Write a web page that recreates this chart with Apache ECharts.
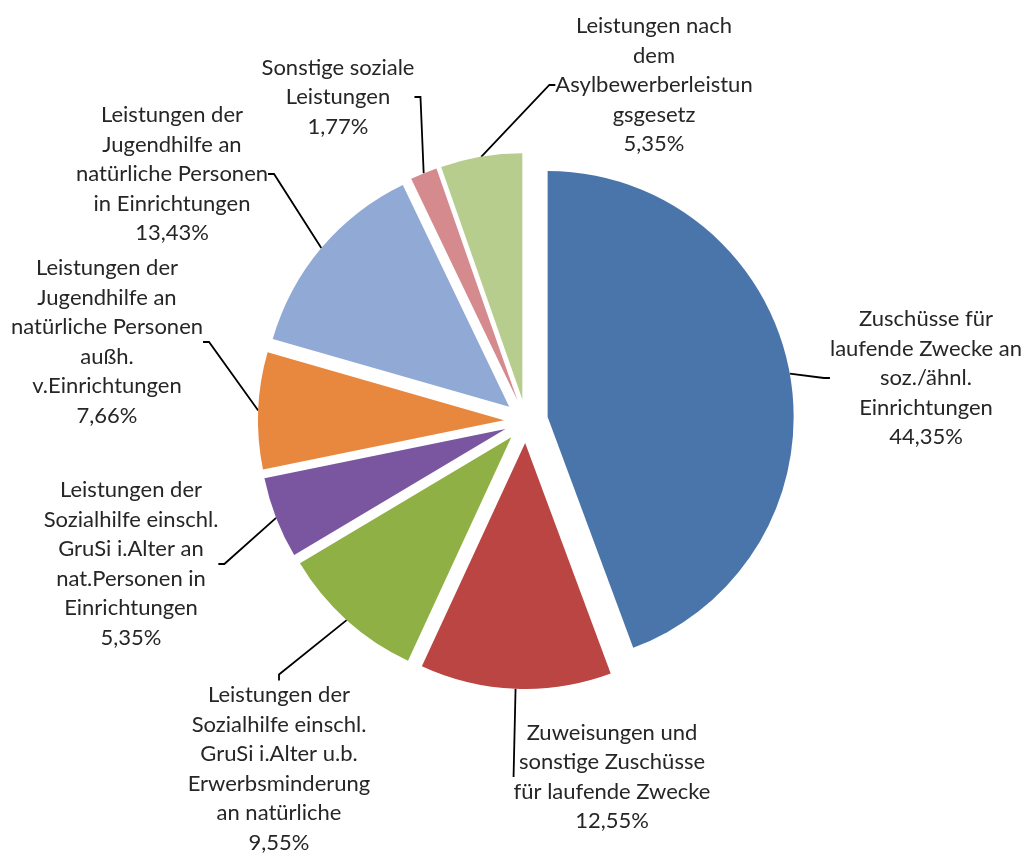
<!DOCTYPE html>
<html>
<head>
<meta charset="utf-8">
<script src="https://cdn.jsdelivr.net/npm/echarts@6/dist/echarts.min.js"></script>
<style>
html,body{margin:0;padding:0;background:#fff;}
#chart{width:1027px;height:853px;}
</style>
</head>
<body>
<div id="chart"></div>
<script>
// Categories (as wrapped in the original labels)
const categories = [
  'Zuschüsse für\nlaufende Zwecke an\nsoz./ähnl.\nEinrichtungen',
  'Zuweisungen und\nsonstige Zuschüsse\nfür laufende Zwecke',
  'Leistungen der\nSozialhilfe einschl.\nGruSi i.Alter u.b.\nErwerbsminderung\nan natürliche',
  'Leistungen der\nSozialhilfe einschl.\nGruSi i.Alter an\nnat.Personen in\nEinrichtungen',
  'Leistungen der\nJugendhilfe an\nnatürliche Personen\naußh.\nv.Einrichtungen',
  'Leistungen der\nJugendhilfe an\nnatürliche Personen\nin Einrichtungen',
  'Sonstige soziale\nLeistungen',
  'Leistungen nach\ndem\nAsylbewerberleistun\ngsgesetz'
];
// Shares in percent
const shares = [44.35, 12.55, 9.55, 5.35, 7.66, 13.43, 1.77, 5.35];
const colors = ['#4A75AA', '#BA4542', '#8FB044', '#7A56A0', '#E8873E', '#90A9D5', '#D58B8E', '#B7CD8D'];
// label anchor positions (layout, not data)
const labelPos = [[926,378],[612,777],[279,769],[131,564],[107,342],[172,174],[338,97],[654,85]];

const CX = 526, CY = 421, R = 246, EXPLODE = 22;
const total = shares.reduce((a,b)=>a+b,0);

const chart = echarts.init(document.getElementById('chart'), null, {renderer:'canvas'});

// One pie per slice so each slice can be pulled out along its own mid angle
let cum = 0;
const series = shares.map((v, i) => {
  const mid = (cum + v/2) / total * 2 * Math.PI;
  cum += v;
  const dx = EXPLODE * Math.sin(mid), dy = -EXPLODE * Math.cos(mid);
  return {
    type:'pie',
    center:[CX + dx, CY + dy],
    radius:R,
    startAngle:90,
    clockwise:true,
    silent:true,
    avoidLabelOverlap:false,
    data: categories.map((n, j) => ({
      name:n, value:shares[j],
      itemStyle:{color: j === i ? colors[j] : 'rgba(0,0,0,0)'},
      label:{show: j === i},
      labelLine:{show: j === i}
    })),
    label:{
      color:'#262626',
      fontFamily:'Lato',
      fontSize:22,
      lineHeight:29.5,
      align:'center',
      formatter:p=>p.name+'\n'+p.value.toFixed(2).replace('.',',')+'%'
    },
    labelLine:{length:10, length2:6, lineStyle:{color:'#000', width:1.8}},
    labelLayout:function(params){
      const p = labelPos[params.dataIndex];
      return {x:p[0], y:p[1], align:'center', verticalAlign:'middle'};
    },
    emphasis:{disabled:true}
  };
});

chart.setOption({
  backgroundColor:'#ffffff',
  animation:false,
  series:series
});
</script>
</body>
</html>
